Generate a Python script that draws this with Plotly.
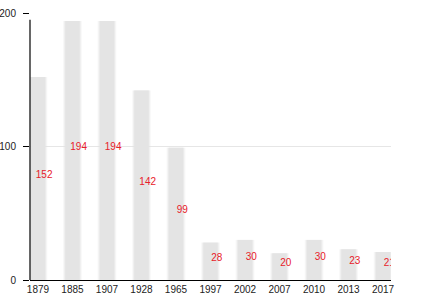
import plotly.graph_objects as go

years = ["1879", "1885", "1907", "1928", "1965", "1997", "2002", "2007", "2010", "2013", "2017"]
values = [152, 194, 194, 142, 99, 28, 30, 20, 30, 23, 21]
y_ticks = [0, 100, 200]

xpos = list(range(len(years)))
fig = go.Figure()

# soft halo layers + core bar
for w, op in [(0.54, 0.25), (0.48, 0.5), (0.42, 1.0)]:
    fig.add_trace(go.Bar(x=xpos, y=values, width=w, marker=dict(color="#e4e4e4", line=dict(width=0)),
                         opacity=op, hoverinfo="skip", showlegend=False))

fig.add_trace(go.Scatter(
    x=[p + 0.18 for p in xpos], y=[v / 2 + 2.2 for v in values],
    mode="text", text=[str(v) for v in values],
    textfont=dict(color="#e8202a", size=10, family="Liberation Sans, Arial"),
    cliponaxis=True, showlegend=False, hoverinfo="skip"))

# y axis line (stops slightly short of top)
fig.add_shape(type="line", xref="paper", yref="y", x0=0, x1=0, y0=0, y1=195,
              line=dict(color="black", width=1.2))

fig.update_layout(
    width=430, height=300,
    margin=dict(l=30, r=39, t=13, b=20),
    paper_bgcolor="white", plot_bgcolor="white",
    barmode="overlay",
    font=dict(family="Liberation Sans, Arial", size=10, color="#222"),
    xaxis=dict(range=[-0.23, 10.23], tickvals=xpos, ticktext=years, showgrid=False,
               showline=True, linecolor="black", linewidth=1.2, ticks="", zeroline=False,
               tickfont=dict(size=10), automargin=False),
    yaxis=dict(range=[0, 200], tickvals=y_ticks, showgrid=True, gridcolor="#e6e6e6",
               gridwidth=1, showline=False, ticks="outside", ticklen=6, tickcolor="black",
               zeroline=False, tickfont=dict(size=10), automargin=False, ticklabelstandoff=5),
)

fig.write_html("out.html")
